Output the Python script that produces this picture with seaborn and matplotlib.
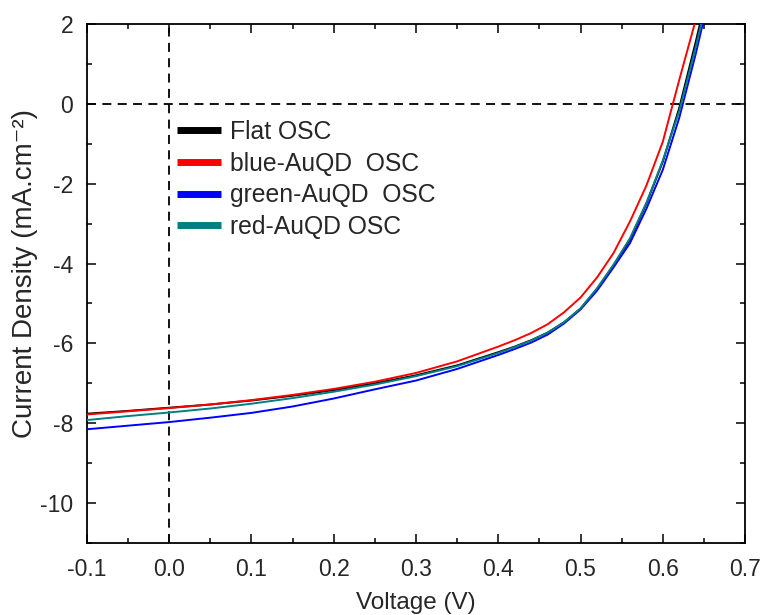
import numpy as np
import pandas as pd
import matplotlib
matplotlib.use("Agg")
import matplotlib.pyplot as plt
from matplotlib.ticker import MultipleLocator, FormatStrFormatter
import seaborn as sns

# J-V curves of the organic solar cells
voltage = [-0.10, -0.05, 0.00, 0.05, 0.10, 0.15, 0.20, 0.25, 0.30, 0.35, 0.40, 0.42,
           0.44, 0.46, 0.48, 0.50, 0.52, 0.54, 0.56, 0.58, 0.60, 0.62, 0.64, 0.66]

flat_osc = [-7.76, -7.69, -7.61, -7.53, -7.43, -7.31, -7.17, -7.00, -6.80, -6.55, -6.22, -6.08,
            -5.92, -5.73, -5.47, -5.13, -4.64, -4.05, -3.40, -2.50, -1.45, -0.10, 1.55, 3.30]
blue_auqd = [-7.78, -7.70, -7.62, -7.53, -7.42, -7.29, -7.14, -6.96, -6.74, -6.45, -6.08, -5.92,
             -5.74, -5.52, -5.22, -4.85, -4.35, -3.74, -2.95, -2.05, -0.95, 0.60, 2.10, 3.80]
green_auqd = [-8.15, -8.06, -7.97, -7.86, -7.74, -7.58, -7.38, -7.15, -6.93, -6.64, -6.29, -6.14,
              -5.98, -5.78, -5.50, -5.15, -4.68, -4.10, -3.49, -2.63, -1.65, -0.35, 1.25, 3.00]
red_auqd = [-7.92, -7.82, -7.73, -7.63, -7.51, -7.37, -7.21, -7.03, -6.82, -6.57, -6.24, -6.09,
            -5.93, -5.73, -5.47, -5.12, -4.62, -4.03, -3.37, -2.48, -1.42, -0.18, 1.42, 3.15]

series_names = ["Flat OSC", "blue-AuQD  OSC", "green-AuQD  OSC", "red-AuQD OSC"]
series_values = [flat_osc, blue_auqd, green_auqd, red_auqd]
series_colors = ["#000000", "#ff0000", "#0000ff", "#008080"]

x_ticks = [-0.1, 0.0, 0.1, 0.2, 0.3, 0.4, 0.5, 0.6, 0.7]
y_ticks = [-10, -8, -6, -4, -2, 0, 2]

frames = [pd.DataFrame({"Voltage": voltage, "J": vals, "Device": name})
          for name, vals in zip(series_names, series_values)]
df = pd.concat(frames, ignore_index=True)

sns.set_style("ticks")
plt.rcParams["font.family"] = ["Liberation Sans", "DejaVu Sans"]
plt.rcParams["axes.unicode_minus"] = False

fig = plt.figure(figsize=(7.67, 6.15), dpi=100)
ax = fig.add_axes([0.1134, 0.117, 0.858, 0.844])

# reference lines at V = 0 and J = 0
ax.axvline(0, color="black", lw=1.3, ls=(0, (5, 3.5)), zorder=1)
ax.axhline(0, color="black", lw=1.3, ls=(0, (5, 3.5)), zorder=1)

sns.lineplot(data=df, x="Voltage", y="J", hue="Device", hue_order=series_names,
             palette=dict(zip(series_names, series_colors)), estimator=None,
             sort=False, lw=1.4, ax=ax, zorder=3)

ax.set_xlim(-0.1, 0.7)
ax.set_ylim(-11, 2)
ax.set_xticks(x_ticks)
ax.set_yticks(y_ticks)
ax.xaxis.set_major_formatter(FormatStrFormatter("%.1f"))
ax.xaxis.set_minor_locator(MultipleLocator(0.05))
ax.yaxis.set_minor_locator(MultipleLocator(1))
ax.tick_params(which="both", direction="in", top=True, right=True, width=1.1,
               labelsize=16.5, color="black")
ax.tick_params(which="major", length=6.5)
ax.tick_params(which="minor", length=3.6)
ax.tick_params(axis="x", pad=11)
ax.tick_params(axis="y", pad=10)
for sp in ax.spines.values():
    sp.set_linewidth(1.3)
    sp.set_color("black")

ax.set_xlabel("Voltage (V)", fontsize=17.5, labelpad=8)
ax.set_ylabel("Current Density (mA.cm\u207b\u00b2)", fontsize=20)
ax.yaxis.set_label_coords(-0.075, 0.52)

leg = ax.legend(loc="upper left", bbox_to_anchor=(0.1368, 0.815), frameon=False,
                fontsize=17.8, handlelength=1.78, handletextpad=0.36,
                labelspacing=0.31, borderpad=0, borderaxespad=0)
for h in leg.get_lines():
    h.set_linewidth(5)
    h.set_solid_capstyle("butt")

fig.savefig("out.png", dpi=100)
